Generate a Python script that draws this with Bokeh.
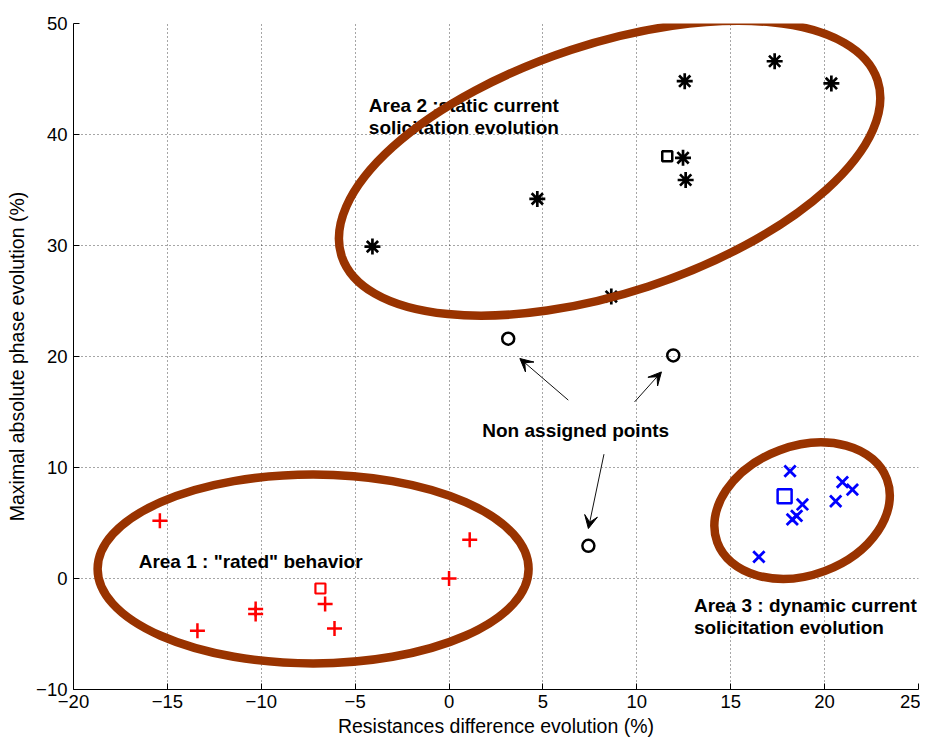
import math
from bokeh.plotting import figure
from bokeh.models import FixedTicker, Arrow, VeeHead, ColumnDataSource
from bokeh.core.properties import value
from bokeh.embed import file_html
from bokeh.resources import INLINE

# ---- data ----
area1_x = [-15.4, -13.4, -10.3, -10.3, -6.6, -6.1, 0.0, 1.1]
area1_y = [5.2, -4.7, -2.75, -3.2, -2.3, -4.5, 0.0, 3.5]
area1_sq_x = [-6.85]
area1_sq_y = [-0.9]

area2_x = [-4.08, 4.7, 8.64, 12.55, 17.34, 20.36, 12.46, 12.6]
area2_y = [29.9, 34.2, 25.4, 44.8, 46.6, 44.6, 37.9, 35.9]
area2_sq_x = [11.62]
area2_sq_y = [38.05]

area3_x = [18.16, 18.82, 18.28, 18.51, 16.5, 20.59, 20.95, 21.48]
area3_y = [9.67, 6.67, 5.32, 5.64, 1.95, 6.96, 8.68, 8.0]
area3_sq_x = [17.87]
area3_sq_y = [7.41]

free_x = [3.15, 11.94, 7.42]
free_y = [21.6, 20.1, 2.94]

x_ticks = [-20, -15, -10, -5, 0, 5, 10, 15, 20, 25]
y_ticks = [-10, 0, 10, 20, 30, 40, 50]

# ---- annotations ----
ell_x = [-7.24, 8.55, 18.8]
ell_y = [0.86, 36.96, 6.11]
ell_w = [431, 564, 181]
ell_h = [189, 249, 129]
ell_deg = [0.0, 18.2, 20.4]

labels = ["Area 1 : \"rated\" behavior", "Area 2 :static current", "solicitation evolution",
          "Area 3 : dynamic current", "solicitation evolution", "Non assigned points"]
lab_x = [-16.53, -4.27, -4.27, 13.04, 13.04, 1.77]
lab_y = [1.5, 42.64, 40.61, -2.45, -4.43, 13.3]

arr_x0 = [6.35, 9.88, 8.25]
arr_y0 = [16.07, 15.91, 11.2]
arr_x1 = [3.77, 11.31, 7.42]
arr_y1 = [19.82, 18.61, 4.5]

FONT = "Liberation Sans"

p = figure(width=920, height=741, x_range=(-20, 25), y_range=(-10, 50),
           output_backend="svg", toolbar_location=None,
           min_border_left=73, min_border_right=2, min_border_top=23, min_border_bottom=52)
p.outline_line_color = None
p.background_fill_color = "white"
p.border_fill_color = "white"

for ax, tk in ((p.xaxis, x_ticks), (p.yaxis, y_ticks)):
    ax.ticker = FixedTicker(ticks=tk)
    ax.major_tick_in = 6
    ax.major_tick_out = 0
    ax.minor_tick_line_color = None
    ax.axis_line_color = "black"
    ax.major_tick_line_color = "black"
    ax.major_label_text_font = FONT
    ax.major_label_text_font_size = "18.5px"
    ax.major_label_text_color = "black"
    ax.axis_label_text_font = FONT
    ax.axis_label_text_font_size = "19.5px"
    ax.axis_label_text_font_style = "normal"
    ax.axis_label_text_color = "black"
    ax.axis_label_standoff = 5

p.xaxis.major_label_standoff = 5
p.xaxis.axis_label_standoff = 4
p.yaxis.major_label_standoff = 6
p.xaxis.axis_label = "Resistances difference evolution (%)"
p.yaxis.axis_label = "Maximal absolute phase evolution (%)"

for g in (p.xgrid, p.ygrid):
    g.grid_line_color = "#222222"
    g.grid_line_dash = "1 3"
    g.grid_line_alpha = 0.8
    g.grid_line_width = 1

# markers
p.scatter(area1_x, area1_y, marker="cross", size=15, line_color="#ff0000", line_width=2.5)
p.scatter(area1_sq_x, area1_sq_y, marker="square", size=10, line_color="#ff0000",
          fill_color=None, line_width=2.2)
p.scatter(area2_x, area2_y, marker="asterisk", size=16, line_color="black", line_width=2.7)
p.scatter(area2_sq_x, area2_sq_y, marker="square", size=10, line_color="black",
          fill_color=None, line_width=2.5)
p.scatter(free_x, free_y, marker="circle", size=12, line_color="black",
          fill_color=None, line_width=2.5)
p.scatter(area3_x, area3_y, marker="x", size=16, line_color="#0000ff", line_width=2.8)
p.scatter(area3_sq_x, area3_sq_y, marker="square", size=14, line_color="#0000ff",
          fill_color=None, line_width=2.5)

# texts
p.text(x=lab_x, y=lab_y, text=labels, text_font=value(FONT), text_font_style="bold",
       text_font_size="19px", text_color="black", text_baseline="alphabetic", text_align="left")

# ellipses
p.ellipse(x=ell_x, y=ell_y, width=ell_w, height=ell_h,
          angle=[math.radians(a) for a in ell_deg],
          width_units="screen", height_units="screen",
          fill_color=None, line_color="#993300", line_width=8.5)

# arrows
asrc = ColumnDataSource(dict(x0=arr_x0, y0=arr_y0, x1=arr_x1, y1=arr_y1))
p.add_layout(Arrow(end=VeeHead(size=13, fill_color="black", line_color="black", line_width=1),
                   x_start="x0", y_start="y0", x_end="x1", y_end="y1", source=asrc,
                   line_color="#111111", line_width=1))

open("out.html", "w").write(file_html(p, INLINE))
